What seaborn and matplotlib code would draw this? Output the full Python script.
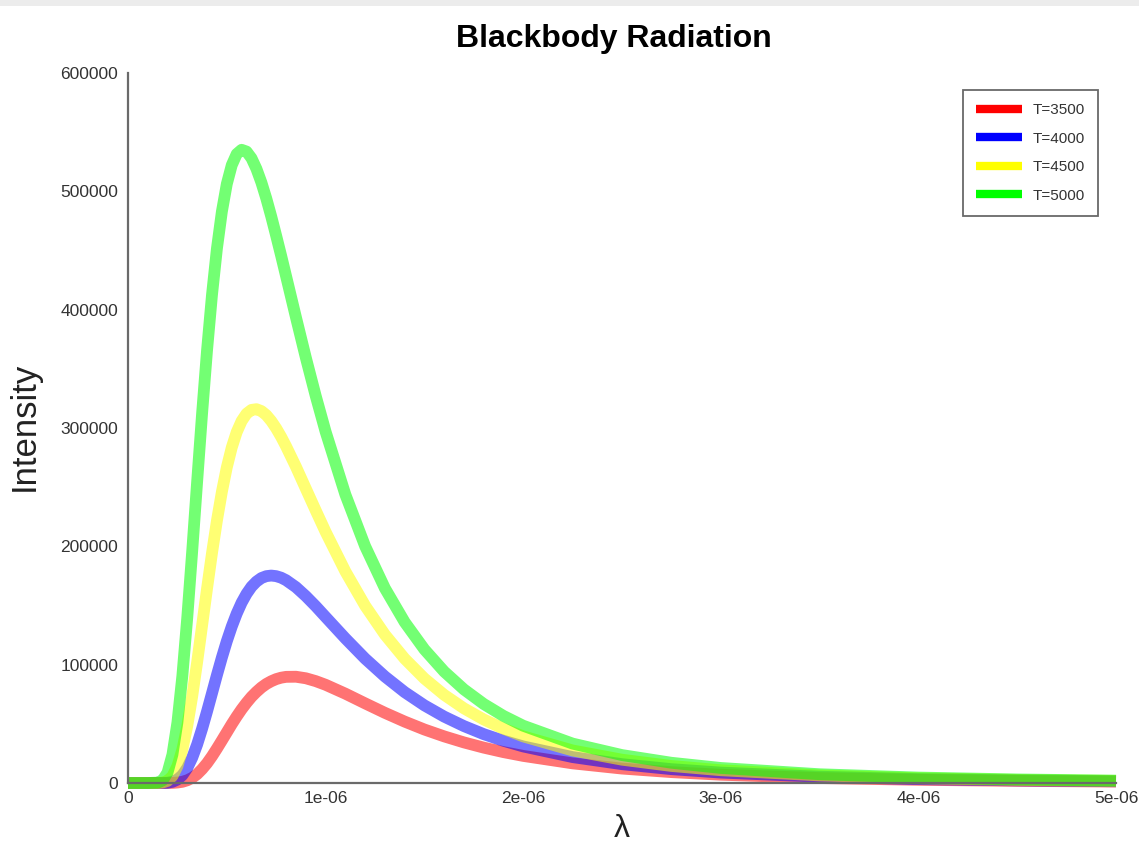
import matplotlib
matplotlib.use("Agg")
import matplotlib.pyplot as plt
import seaborn as sns
import pandas as pd
from matplotlib.lines import Line2D
from matplotlib.patches import Rectangle
from matplotlib.ticker import FuncFormatter, FixedLocator

# ---- data ----
wavelength_um = [0, 0.05, 0.1, 0.15, 0.175, 0.2, 0.225, 0.25, 0.275, 0.3,
                 0.325, 0.35, 0.375, 0.4, 0.425, 0.45, 0.475, 0.5, 0.525, 0.55,
                 0.575, 0.6, 0.625, 0.65, 0.675, 0.7, 0.725, 0.75, 0.775, 0.8,
                 0.85, 0.9, 0.95, 1.0, 1.1, 1.2, 1.3, 1.4, 1.5, 1.6,
                 1.7, 1.8, 1.9, 2.0, 2.25, 2.5, 2.75, 3.0, 3.5, 4.0,
                 4.5, 5.0]

t3500 = [0, 0, 0, 0, 0, 0, 100, 400, 1000, 2300,
         4400, 7500, 11700, 16700, 22600, 29100, 35900, 42800, 49700, 56200,
         62300, 67800, 72800, 77000, 80700, 83700, 86000, 87800, 89000, 89700,
         89800, 88500, 86100, 83000, 75500, 67300, 59300, 51900, 45200, 39400,
         34300, 29900, 26100, 22900, 16600, 12200, 9200, 7000, 4200, 2700,
         1800, 1200]
t4000 = [0, 0, 0, 0, 0, 200, 1000, 2900, 6600, 12700,
         21400, 32600, 45900, 60500, 75800, 91200, 106000, 119800, 132200, 143100,
         152400, 159900, 165900, 170200, 173200, 174800, 175300, 174800, 173500, 171400,
         165500, 157900, 149400, 140300, 122200, 105100, 90000, 76800, 65600, 56100,
         48100, 41300, 35700, 30900, 21900, 15900, 11700, 8800, 5300, 3300,
         2200, 1500]
t4500 = [0, 0, 0, 0, 400, 1800, 5800, 14200, 28200, 48200,
         73300, 102200, 133100, 164300, 194200, 221700, 246000, 266700, 283500, 296500,
         305900, 312100, 315300, 315900, 314300, 310900, 305900, 299700, 292500, 284500,
         267200, 248700, 230300, 212200, 178800, 149800, 125400, 105100, 88300, 74500,
         63100, 53700, 45900, 39400, 27500, 19700, 14400, 10800, 6400, 4000,
         2600, 1800]
t5000 = [0, 0, 0, 300, 2200, 8800, 24100, 51100, 90400, 139900,
         196100, 254900, 312400, 365600, 412400, 451600, 482800, 506200, 522100, 531500,
         535100, 533600, 528000, 519000, 507500, 493900, 478700, 462400, 445600, 428300,
         393500, 359400, 327100, 296900, 243800, 200100, 164600, 136000, 112900, 94200,
         79100, 66800, 56700, 48400, 33300, 23600, 17100, 12700, 7400, 4600,
         3000, 2000]

series_labels = ["T=3500", "T=4000", "T=4500", "T=5000"]
series_values = [t3500, t4000, t4500, t5000]
series_colors = ["#ff0000", "#0000ff", "#ffff00", "#00ff00"]

x_ticks = [0, 1e-6, 2e-6, 3e-6, 4e-6, 5e-6]
y_ticks = [0, 100000, 200000, 300000, 400000, 500000, 600000]

# ---- build long-form table ----
rows = []
for lab, vals in zip(series_labels, series_values):
    for w, v in zip(wavelength_um, vals):
        rows.append({"wavelength": w * 1e-6, "intensity": v, "series": lab})
df = pd.DataFrame(rows)

sns.set_style("white")
plt.rcParams["font.family"] = ["Liberation Sans", "DejaVu Sans"]

W, H = 1139, 847
fig = plt.figure(figsize=(W / 100, H / 100), dpi=100)
ax = fig.add_axes([128 / W, 1 - 783 / H, (1116 - 128) / W, (783 - 73) / H])

palette = dict(zip(series_labels, series_colors))
sns.lineplot(data=df, x="wavelength", y="intensity", hue="series",
             hue_order=series_labels, palette=palette, linewidth=8.5,
             alpha=0.55, legend=False, ax=ax, sort=False)
for ln in ax.get_lines():
    ln.set_clip_on(False)
    ln.set_solid_capstyle("butt")
    ln.set_solid_joinstyle("round")

ax.set_xlim(0, 5e-6)
ax.set_ylim(0, 600000)
ax.xaxis.set_major_locator(FixedLocator(x_ticks))
ax.yaxis.set_major_locator(FixedLocator(y_ticks))
ax.xaxis.set_major_formatter(FuncFormatter(lambda v, p: "%g" % v))
ax.yaxis.set_major_formatter(FuncFormatter(lambda v, p: "%g" % v))

for s in ["top", "right"]:
    ax.spines[s].set_visible(False)
for s in ["left", "bottom"]:
    ax.spines[s].set_color("#6a6a6a")
    ax.spines[s].set_linewidth(1.6)

ax.tick_params(axis="both", direction="in", length=6, width=1.2,
               color="#333333", labelsize=12.5, labelcolor="#333333", pad=7)
ax.tick_params(axis="x", pad=6)

ax.set_title("Blackbody Radiation", fontsize=23, fontweight="bold", pad=19,
             color="black", x=0.492)
ax.set_ylabel("Intensity", fontsize=25, color="#222222")
ax.set_xlabel("λ", fontsize=23, color="#222222")
ax.yaxis.set_label_coords(-0.088, 0.502)
ax.xaxis.set_label_coords(0.5, -0.044)

handles = [Line2D([0], [0], color=c, lw=6, solid_capstyle="butt") for c in series_colors]
leg = ax.legend(handles, series_labels, loc="upper right",
                bbox_to_anchor=(0.982, 0.976), borderaxespad=0,
                fontsize=11, frameon=True, fancybox=False,
                handlelength=3.0, handletextpad=0.7, labelspacing=0.95,
                borderpad=0.85)
leg.get_frame().set_edgecolor("#444444")
leg.get_frame().set_linewidth(1.3)
for t in leg.get_texts():
    t.set_color("#333333")

fig.patches.append(Rectangle((0, 1 - 6 / H), 1, 6 / H, transform=fig.transFigure,
                             facecolor="#ececec", edgecolor="none", zorder=0))

fig.savefig("out.png", dpi=100)
